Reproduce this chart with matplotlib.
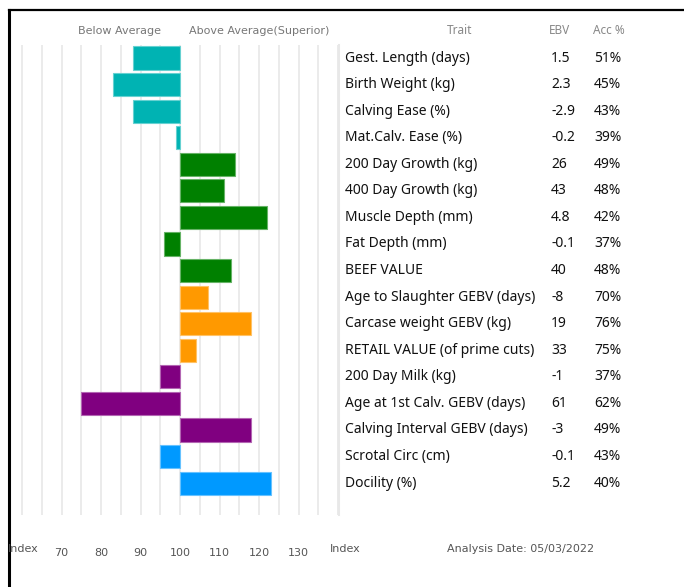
import matplotlib.pyplot as plt
import matplotlib.transforms as mtransforms

# data
traits = ['Gest. Length (days)', 'Birth Weight (kg)', 'Calving Ease (%)', 'Mat.Calv. Ease (%)',
          '200 Day Growth (kg)', '400 Day Growth (kg)', 'Muscle Depth (mm)', 'Fat Depth (mm)',
          'BEEF VALUE', 'Age to Slaughter GEBV (days)', 'Carcase weight GEBV (kg)',
          'RETAIL VALUE (of prime cuts)', '200 Day Milk (kg)', 'Age at 1st Calv. GEBV (days)',
          'Calving Interval GEBV (days)', 'Scrotal Circ (cm)', 'Docility (%)']
ebv = ['1.5', '2.3', '-2.9', '-0.2', '26', '43', '4.8', '-0.1', '40', '-8', '19', '33',
       '-1', '61', '-3', '-0.1', '5.2']
acc = ['51%', '45%', '43%', '39%', '49%', '48%', '42%', '37%', '48%', '70%', '76%', '75%',
       '37%', '62%', '49%', '43%', '40%']
index_vals = [88, 83, 88, 99, 114, 111, 122, 96, 113, 107, 118, 104, 95, 75, 118, 95, 123]
groups = ['cyan'] * 4 + ['green'] * 5 + ['orange'] * 3 + ['purple'] * 3 + ['blue'] * 2
tick_vals = [70, 80, 90, 100, 110, 120, 130]

fill = {'cyan': '#00B3B3', 'green': '#008000', 'orange': '#FF9900', 'purple': '#800080', 'blue': '#0099FF'}
edge = {'cyan': '#66D1D1', 'green': '#66B366', 'orange': '#FFC266', 'purple': '#B366B3', 'blue': '#66C2FF'}

W, H = 684, 587
fig = plt.figure(figsize=(W / 100, H / 100), dpi=100)

def px(x0, y0, x1, y1):
    return [x0 / W, 1 - y1 / H, (x1 - x0) / W, (y1 - y0) / H]

ax = fig.add_axes(px(9, 45, 338.5, 515))
ax.set_xlim(56.7, 140.1)
ax.set_ylim(17.2, -0.49)
for v in range(60, 145, 5):
    ax.axvline(v, color='#E8E8E8', lw=1.2, zorder=0)

rows = list(range(len(traits)))
for i in rows:
    ax.barh(i, index_vals[i] - 100, left=100, height=0.87,
            color=fill[groups[i]], edgecolor=edge[groups[i]], lw=0.8, zorder=2)

for s in ax.spines.values():
    s.set_visible(False)
ax.set_yticks([])
ax.set_xticks(tick_vals)
ax.set_xticklabels([str(v) for v in tick_vals])
ax.tick_params(axis='x', length=0, pad=24, labelsize=8, labelcolor='#555555')

# table texts
tr = mtransforms.blended_transform_factory(fig.transFigure, ax.transData)
tfont = ['Noto Sans', 'DejaVu Sans']
for i in rows:
    fig.text(345 / W, i, traits[i], transform=tr, va='center', ha='left', fontsize=10,
             color='#111111', family=tfont)
    fig.text(551 / W, i, ebv[i], transform=tr, va='center', ha='left', fontsize=10,
             color='#111111', family=tfont)
    fig.text(594 / W, i, acc[i], transform=tr, va='center', ha='left', fontsize=10,
             color='#111111', family=tfont)

# separator line before the table
fig.add_artist(plt.Line2D([339 / W, 339 / W], [1 - 45 / H, 1 - 515 / H], color='#E8E8E8', lw=1.5))

# headers
hy = 1 - 31 / H
fig.text(120 / W, hy, 'Below Average', ha='center', va='center', fontsize=8, color='#777777')
fig.text(259 / W, hy, 'Above Average(Superior)', ha='center', va='center', fontsize=8, color='#777777')
fig.text(460 / W, hy, 'Trait', ha='center', va='center', fontsize=8.5, color='#888888', family=tfont)
fig.text(560 / W, hy, 'EBV', ha='center', va='center', fontsize=8.5, color='#888888', family=tfont)
fig.text(609 / W, hy, 'Acc %', ha='center', va='center', fontsize=8.5, color='#888888', family=tfont)

# footer
fy = 1 - 549 / H
fig.text(8 / W, fy, 'Index', ha='left', va='center', fontsize=8, color='#555555')
fig.text(330 / W, fy, 'Index', ha='left', va='center', fontsize=8, color='#555555')
fig.text(447 / W, fy, 'Analysis Date: 05/03/2022', ha='left', va='center', fontsize=8, color='#555555')

# frame lines
fig.add_artist(plt.Line2D([9 / W, 1], [1 - 10 / H, 1 - 10 / H], color='black', lw=1.6))
fig.add_artist(plt.Line2D([9 / W, 9 / W], [0, 1 - 10 / H], color='black', lw=2.2))

fig.savefig('out.png', dpi=100)
